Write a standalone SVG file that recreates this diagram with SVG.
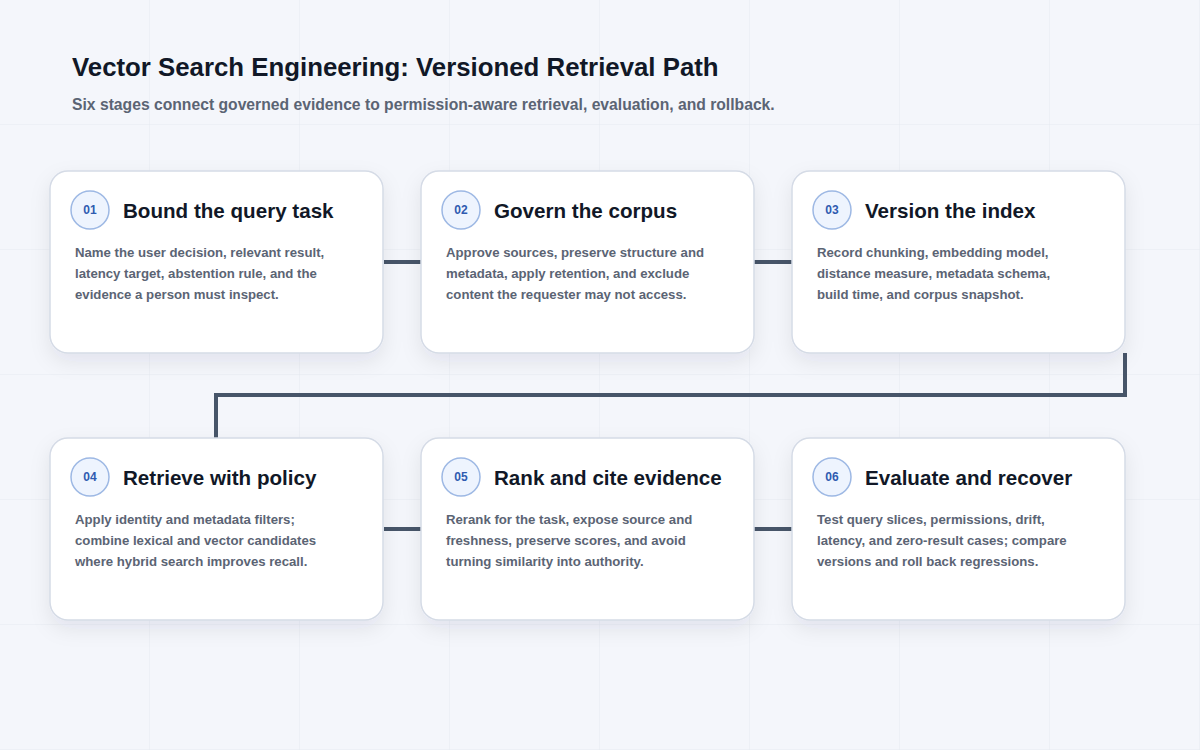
<svg xmlns="http://www.w3.org/2000/svg" width="1200" height="750" viewBox="0 0 1200 750">
<defs>
<pattern id="grid" width="150" height="125" patternUnits="userSpaceOnUse"><path d="M150 0V125M0 125H150" fill="none" stroke="#e6eaf1" stroke-width="1"/></pattern>
<filter id="sh" x="-20%" y="-20%" width="140%" height="150%"><feDropShadow dx="0" dy="8" stdDeviation="10" flood-color="#1e293b" flood-opacity="0.08"/></filter>
</defs>
<style>
.card{fill:#fff;stroke:#d5dbe6;stroke-width:1.5;filter:url(#sh)}
.num{fill:#eef4fe;stroke:#9db8e4;stroke-width:1.5}
.nt{font-family:"Liberation Sans",Arial,sans-serif;font-size:12px;font-weight:bold;fill:#2f5bb0;text-anchor:middle}
.tt{font-family:"Liberation Sans",Arial,sans-serif;font-size:20.6px;font-weight:bold;fill:#111827}
.bt{font-family:"Liberation Sans",Arial,sans-serif;font-size:13.2px;font-weight:bold;fill:#5b6474}
.conn{fill:none;stroke:#475569;stroke-width:4}
</style>
<rect width="1200" height="750" fill="#f4f6fb"/>
<rect width="1200" height="750" fill="url(#grid)"/>
<text x="72" y="76" font-family="Liberation Sans,Arial,sans-serif" font-size="25.8" font-weight="bold" fill="#111827">Vector Search Engineering: Versioned Retrieval Path</text>
<text x="72" y="110" font-family="Liberation Sans,Arial,sans-serif" font-size="15.7" font-weight="bold" fill="#5b6474">Six stages connect governed evidence to permission-aware retrieval, evaluation, and rollback.</text>
<g id="connectors">
<path class="conn" d="M384 262H421"/>
<path class="conn" d="M754 262H792"/>
<path class="conn" d="M1125 353V395H216V438"/>
<path class="conn" d="M384 529H421"/>
<path class="conn" d="M754 529H792"/>
</g>
<g id="n1"><rect class="card" x="50" y="171" width="333" height="182" rx="18"/><circle class="num" cx="90" cy="210" r="19"/><text class="nt" x="90" y="214">01</text><text class="tt" x="123" y="218">Bound the query task</text>
<text class="bt"><tspan x="75" y="257">Name the user decision, relevant result,</tspan><tspan x="75" y="278">latency target, abstention rule, and the</tspan><tspan x="75" y="299">evidence a person must inspect.</tspan></text></g>
<g id="n2"><rect class="card" x="421" y="171" width="333" height="182" rx="18"/><circle class="num" cx="461" cy="210" r="19"/><text class="nt" x="461" y="214">02</text><text class="tt" x="494" y="218">Govern the corpus</text>
<text class="bt"><tspan x="446" y="257">Approve sources, preserve structure and</tspan><tspan x="446" y="278">metadata, apply retention, and exclude</tspan><tspan x="446" y="299">content the requester may not access.</tspan></text></g>
<g id="n3"><rect class="card" x="792" y="171" width="333" height="182" rx="18"/><circle class="num" cx="832" cy="210" r="19"/><text class="nt" x="832" y="214">03</text><text class="tt" x="865" y="218">Version the index</text>
<text class="bt"><tspan x="817" y="257">Record chunking, embedding model,</tspan><tspan x="817" y="278">distance measure, metadata schema,</tspan><tspan x="817" y="299">build time, and corpus snapshot.</tspan></text></g>
<g id="n4"><rect class="card" x="50" y="438" width="333" height="182" rx="18"/><circle class="num" cx="90" cy="477" r="19"/><text class="nt" x="90" y="481">04</text><text class="tt" x="123" y="485">Retrieve with policy</text>
<text class="bt"><tspan x="75" y="524">Apply identity and metadata filters;</tspan><tspan x="75" y="545">combine lexical and vector candidates</tspan><tspan x="75" y="566">where hybrid search improves recall.</tspan></text></g>
<g id="n5"><rect class="card" x="421" y="438" width="333" height="182" rx="18"/><circle class="num" cx="461" cy="477" r="19"/><text class="nt" x="461" y="481">05</text><text class="tt" x="494" y="485">Rank and cite evidence</text>
<text class="bt"><tspan x="446" y="524">Rerank for the task, expose source and</tspan><tspan x="446" y="545">freshness, preserve scores, and avoid</tspan><tspan x="446" y="566">turning similarity into authority.</tspan></text></g>
<g id="n6"><rect class="card" x="792" y="438" width="333" height="182" rx="18"/><circle class="num" cx="832" cy="477" r="19"/><text class="nt" x="832" y="481">06</text><text class="tt" x="865" y="485">Evaluate and recover</text>
<text class="bt"><tspan x="817" y="524">Test query slices, permissions, drift,</tspan><tspan x="817" y="545">latency, and zero-result cases; compare</tspan><tspan x="817" y="566">versions and roll back regressions.</tspan></text></g>
</svg>
